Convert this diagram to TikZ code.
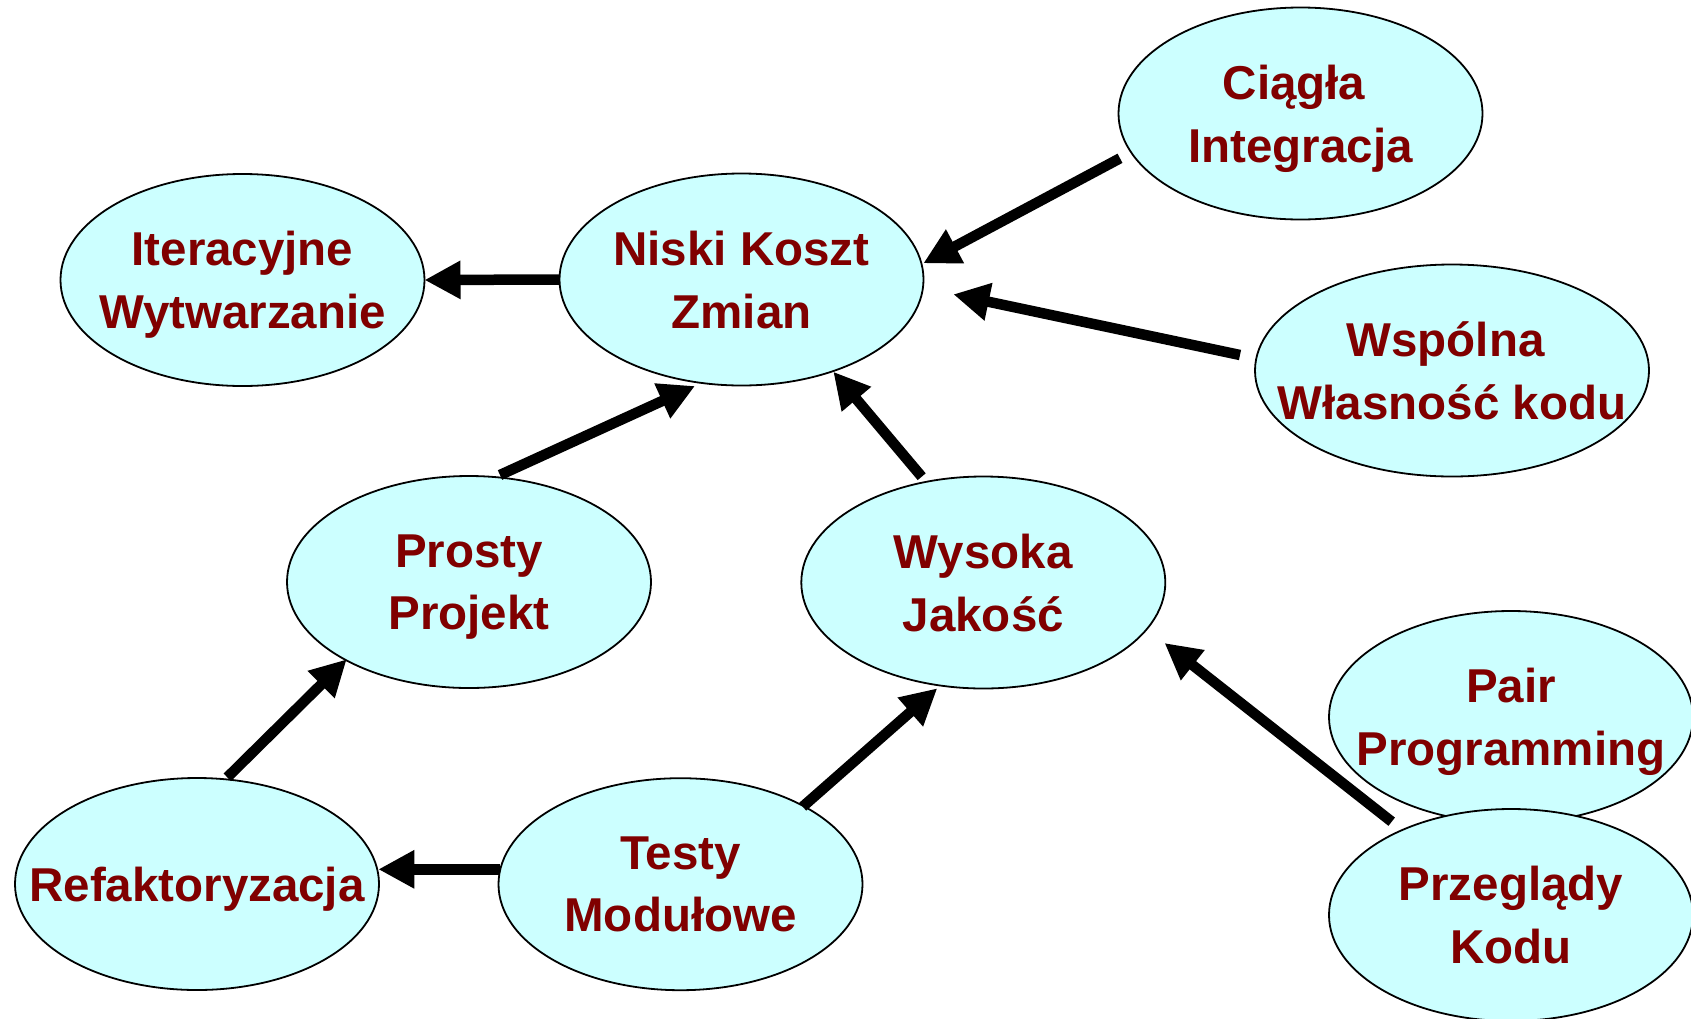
\documentclass[tikz,border=0pt]{standalone}
\usepackage{fontspec}
\setmainfont{Liberation Sans}
\usetikzlibrary{shapes.geometric,arrows.meta,calc}
\definecolor{bubfill}{HTML}{CCFFFF}
\definecolor{txtred}{HTML}{800000}
\begin{document}
\begin{tikzpicture}[x=1pt,y=-1pt,
  bub/.style={ellipse,draw=black,line width=1.8pt,fill=bubfill,inner sep=0pt,outer sep=0pt,minimum width=364pt,minimum height=212pt},
  lbl/.style={text=txtred,font=\fontsize{47.5pt}{62.6pt}\selectfont\bfseries,align=center,inner sep=0pt,text depth=0pt},
  arr/.style={line width=10.5pt,-{Triangle[length=36pt,width=36pt]}}]
\useasboundingbox (0,0) rectangle (1691,1018);

\node[bub] (iter) at (242.5,280) {};
\node[lbl] (iterT) at (iter) {Iteracyjne\\Wytwarzanie};
\node[bub] (niski) at (741.5,279.5) {};
\node[lbl] (niskiT) at (niski) {Niski Koszt\\Zmian};
\node[bub] (ciagla) at (1300.5,113.5) {};
\node[lbl] (ciaglaT) at (ciagla) {Ciągła\kern13pt\\Integracja};
\node[bub,minimum width=394pt] (wspolna) at (1452,370.5) {};
\node[lbl] (wspolnaT) at (wspolna) {Wspólna\kern13pt\\Własność kodu};
\node[bub] (prosty) at (469,582) {};
\node[lbl] (prostyT) at (prosty) {Prosty\\Projekt};
\node[bub] (wysoka) at (983.3,582.5) {};
\node[lbl] (wysokaT) at (wysoka) {Wysoka\\Jakość};
\node[bub] (pair) at (1511,717) {};
\node[lbl] (pairT) at (pair) {Pair\\Programming};
\node[bub] (przeg) at (1511,915) {};
\node[lbl] (przegT) at (przeg) {Przeglądy\\Kodu};
\node[bub] (refak) at (197,884) {};
\node[lbl] (refakT) at (refak) {Refaktoryzacja};
\node[bub] (testy) at (680.5,884.2) {};
\node[lbl] (testyT) at (testy) {Testy\\Modułowe};

\draw[arr] (niski.west) -- (iter.east);
\draw[arr] ($(ciagla)+(-180.5,44.8)$) -- ($(niski)+(181.8,-16.2)$);
\draw[arr] ($(wspolna)+(-212,-15.5)$) -- ($(niski)+(211.8,14.8)$);
\draw[arr] ($(prosty)+(31,-107)$) -- ($(niski)+(-46.5,106.5)$);
\draw[arr] ($(wysoka)+(-61.6,-105.8)$) -- ($(niski)+(91.8,92.2)$);
\draw[arr] ($(refak)+(30.3,-106.7)$) -- ($(prosty)+(-122.3,77.3)$);
\draw[arr] ($(testy)+(122.2,-77.5)$) -- ($(wysoka)+(-46,105.8)$);
\draw[arr] ($(testy)+(-180.5,-14.9)$) -- ($(refak)+(181.3,-14.7)$);
\draw[arr] ($(przeg)+(-119.3,-93.3)$) -- ($(wysoka)+(181.2,60.5)$);
\end{tikzpicture}
\end{document}
